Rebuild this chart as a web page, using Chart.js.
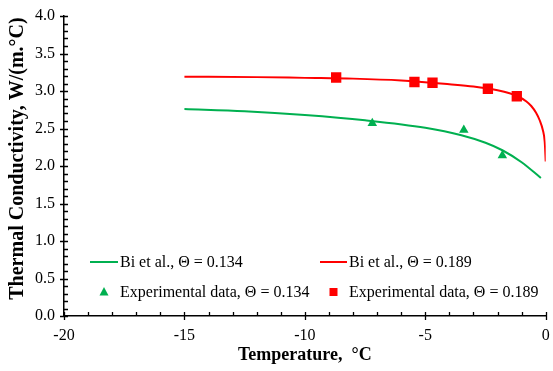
<!DOCTYPE html>
<html>
<head>
<meta charset="utf-8">
<script src="https://cdn.jsdelivr.net/npm/chart.js@4/dist/chart.umd.min.js"></script>
<style>
html,body{margin:0;padding:0;background:#fff;}
#wrap{width:553px;height:371px;position:relative;}
</style>
</head>
<body>
<div id="wrap"><canvas id="c" width="553" height="371"></canvas></div>
<script>
// ---- data ----
const greenLineX = [-15, -12.5, -10, -7.5, -5, -3.5, -2.5, -1.8, -1, -0.2];
const greenLineY = [2.76, 2.73, 2.68, 2.61, 2.51, 2.41, 2.31, 2.21, 2.05, 1.84];
const redLineX = [-15, -12, -10, -8, -6, -4, -3, -2, -1.5, -1.1, -0.8, -0.6, -0.4, -0.25, -0.12, -0.04, 0];
const redLineY = [3.19, 3.185, 3.175, 3.165, 3.14, 3.09, 3.06, 3.01, 2.97, 2.92, 2.86, 2.80, 2.71, 2.61, 2.48, 2.32, 2.06];
const greenPtsX = [-7.2, -3.4, -1.8];
const greenPtsY = [2.57, 2.48, 2.14];
const redPtsX = [-8.7, -5.45, -4.7, -2.4, -1.2];
const redPtsY = [3.18, 3.12, 3.11, 3.03, 2.93];
const labels = ["Bi et al., \u0398 = 0.134", "Bi et al., \u0398 = 0.189",
                "Experimental data, \u0398 = 0.134", "Experimental data, \u0398 = 0.189"];
const xTicks = [-20, -15, -10, -5, 0];
const yTicks = [0, 0.5, 1, 1.5, 2, 2.5, 3, 3.5, 4];

const GREEN = '#00B050', RED = '#FF0000';
const zip = (xs, ys) => xs.map((x, i) => ({x, y: ys[i]}));
const SERIF = "'Liberation Serif','Times New Roman',serif";

const ticksPlugin = {
  id: 'ticksPlugin',
  afterDraw(chart) {
    const ctx = chart.ctx, xs = chart.scales.x, ys = chart.scales.y;
    const ax = xs.getPixelForValue(-20) , ay = ys.getPixelForValue(0);
    ctx.save();
    ctx.strokeStyle = '#000';
    ctx.lineWidth = 1.3;
    ctx.beginPath();
    for (let v = -20; v <= 0; v += 1) {
      const px = Math.round(xs.getPixelForValue(v)) + 0.5;
      if (v % 5 === 0) { ctx.moveTo(px, ay - 4); ctx.lineTo(px, ay + 4); }
      else { ctx.moveTo(px, ay); ctx.lineTo(px, ay - 4); }
    }
    for (let i = 0; i <= 40; i++) {
      const v = i / 10;
      const py = Math.round(ys.getPixelForValue(v)) + 0.5;
      if (i % 5 === 0) { ctx.moveTo(ax - 4, py); ctx.lineTo(ax + 4, py); }
      else { ctx.moveTo(ax, py); ctx.lineTo(ax + 4, py); }
    }
    ctx.stroke();
    ctx.restore();
  }
};

const legendPlugin = {
  id: 'legendPlugin',
  afterDraw(chart) {
    const ctx = chart.ctx;
    ctx.save();
    ctx.font = '16px ' + SERIF;
    ctx.fillStyle = '#000';
    ctx.textBaseline = 'middle';
    const rows = [262, 292];
    const cols = [{l: 90, r: 118, t: 120}, {l: 320, r: 347, t: 349}];
    [[0, GREEN], [1, RED]].forEach(([c, col]) => {
      ctx.strokeStyle = col; ctx.lineWidth = 2;
      ctx.beginPath(); ctx.moveTo(cols[c].l, rows[0]); ctx.lineTo(cols[c].r, rows[0]); ctx.stroke();
      ctx.fillText(chart.data.datasets[c].label, cols[c].t, rows[0] + 1);
    });
    const gx = (cols[0].l + cols[0].r) / 2, rx = (cols[1].l + cols[1].r) / 2;
    ctx.fillStyle = GREEN;
    ctx.beginPath(); ctx.moveTo(gx, rows[1] - 5); ctx.lineTo(gx + 4.5, rows[1] + 3.5); ctx.lineTo(gx - 4.5, rows[1] + 3.5); ctx.closePath(); ctx.fill();
    ctx.fillStyle = RED;
    ctx.fillRect(rx - 4, rows[1] - 4, 8, 8);
    ctx.fillStyle = '#000';
    ctx.fillText(chart.data.datasets[2].label, cols[0].t, rows[1] + 1);
    ctx.fillText(chart.data.datasets[3].label, cols[1].t, rows[1] + 1);
    ctx.restore();
  }
};

new Chart(document.getElementById('c'), {
  type: 'scatter',
  data: {
    datasets: [
      {label: labels[0], data: zip(greenLineX, greenLineY), showLine: true, borderColor: GREEN, borderWidth: 2,
       pointRadius: 0, cubicInterpolationMode: 'monotone', order: 3},
      {label: labels[1], data: zip(redLineX, redLineY), showLine: true, borderColor: RED, borderWidth: 2,
       pointRadius: 0, cubicInterpolationMode: 'monotone', order: 2},
      {label: labels[2], data: zip(greenPtsX, greenPtsY), pointStyle: 'triangle', pointRadius: 5.5,
       backgroundColor: GREEN, borderColor: GREEN, borderWidth: 0, order: 1},
      {label: labels[3], data: zip(redPtsX, redPtsY), pointStyle: 'rect', pointRadius: 7.3,
       backgroundColor: RED, borderColor: RED, borderWidth: 0, order: 0}
    ]
  },
  options: {
    responsive: false,
    animation: false,
    events: [],
    layout: {padding: {top: 16, right: 6, left: 0, bottom: 0}},
    plugins: {legend: {display: false}, tooltip: {enabled: false}},
    scales: {
      x: {
        type: 'linear', min: -20, max: 0,
        afterFit(s) { s.height = 55; s.paddingRight = 0; s.paddingLeft = 0; },
        afterBuildTicks(s) { s.ticks = xTicks.map(v => ({value: v})); },
        grid: {display: false, drawTicks: false, tickLength: 0},
        border: {display: true, color: '#000', width: 1.5},
        ticks: {color: '#000', font: {family: SERIF, size: 16}, padding: 10, maxRotation: 0},
        title: {display: true, text: 'Temperature,  \u00B0C', color: '#000',
                font: {family: SERIF, size: 18, weight: 'bold'}, padding: {top: 0, bottom: 5}}
      },
      y: {
        type: 'linear', min: 0, max: 4,
        afterFit(s) { s.width = 64; s.paddingTop = 0; s.paddingBottom = 0; },
        afterBuildTicks(s) { s.ticks = yTicks.map(v => ({value: v})); },
        grid: {display: false, drawTicks: false, tickLength: 0},
        border: {display: true, color: '#000', width: 1.5},
        ticks: {color: '#000', font: {family: SERIF, size: 16}, padding: 9,
                callback: v => Number(v).toFixed(1)},
        title: {display: true, text: '\u00A0\u00A0\u00A0Thermal Conductivity, W/(m.\u00B0C)', color: '#000',
                font: {family: SERIF, size: 20, weight: 'bold'}, padding: {top: 6, bottom: 0}}
      }
    }
  },
  plugins: [ticksPlugin, legendPlugin]
});
</script>
</body>
</html>
